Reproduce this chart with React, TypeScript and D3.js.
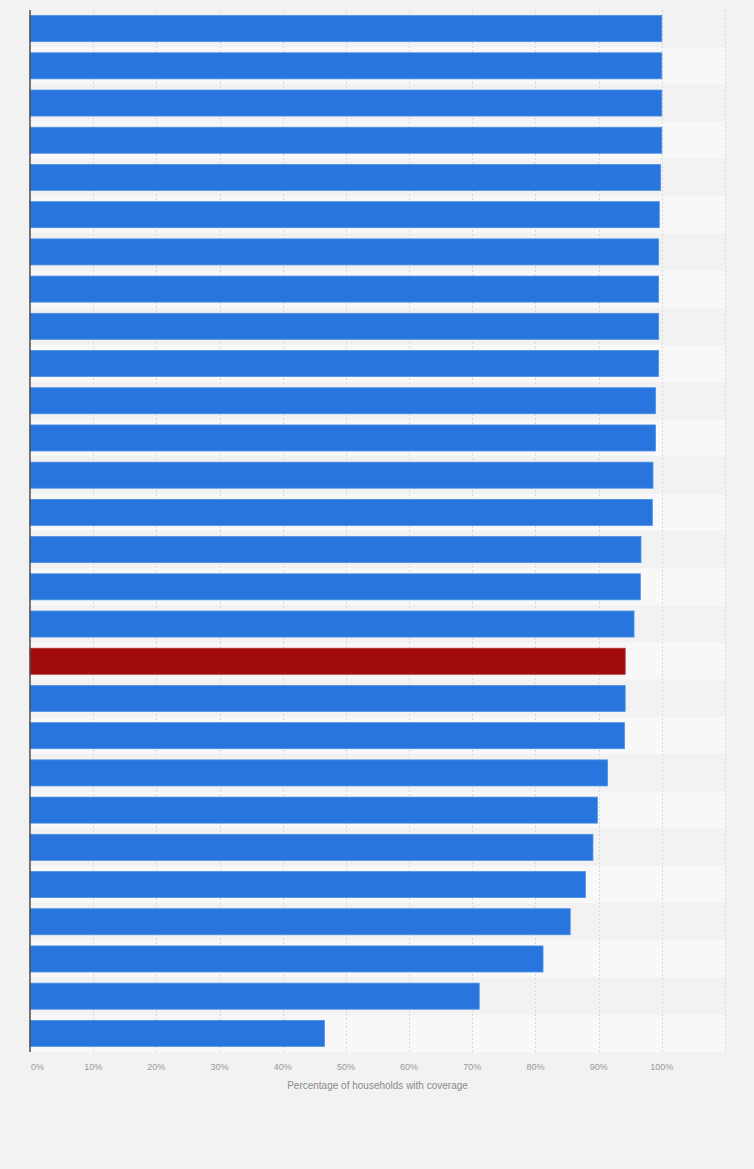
import React, { useRef, useEffect } from "react";
import { select, scaleLinear, scaleBand, range } from "d3";

// coverage share per country, sorted descending (country names not shown in the chart)
const categories = [
  "c01", "c02", "c03", "c04", "c05", "c06", "c07", "c08", "c09", "c10",
  "c11", "c12", "c13", "c14", "c15", "c16", "c17", "c18", "c19", "c20",
  "c21", "c22", "c23", "c24", "c25", "c26", "c27", "c28",
];
const values = [
  100, 100, 100, 100, 99.8, 99.6, 99.5, 99.5, 99.5, 99.5,
  99.0, 99.0, 98.6, 98.5, 96.7, 96.6, 95.6, 94.2, 94.2, 94.1,
  91.4, 89.8, 89.1, 87.9, 85.5, 81.2, 71.1, 46.6,
];
const highlight = "c18";
const ticks = [0, 10, 20, 30, 40, 50, 60, 70, 80, 90, 100];
const axisTitle = "Percentage of households with coverage";

const W = 754;
const H = 1169;
const left = 30;
const right = 725;
const top = 10;
const bottom = 1052;

function App() {
  const svgRef = useRef<SVGSVGElement>(null);

  useEffect(() => {
    const svg = select(svgRef.current);
    svg.selectAll("*").remove();

    const x = scaleLinear().domain([0, 110]).range([left, right]);
    const y = scaleBand<string>()
      .domain(categories)
      .range([top, bottom])
      .paddingInner(0.3)
      .paddingOuter(0.15);
    const rows = scaleBand<string>().domain(categories).range([top, bottom]);

    svg.append("rect").attr("width", W).attr("height", H).attr("fill", "#f2f2f2");

    // alternating row bands
    svg
      .selectAll(".band")
      .data(categories)
      .join("rect")
      .attr("class", "band")
      .attr("x", left)
      .attr("y", (d) => rows(d)!)
      .attr("width", right - left)
      .attr("height", rows.bandwidth())
      .attr("fill", (d, i) => (i % 2 === 0 ? "#f2f2f2" : "#f8f8f8"));

    // grid
    svg
      .selectAll(".grid")
      .data(range(10, 111, 10))
      .join("line")
      .attr("class", "grid")
      .attr("x1", (d) => Math.round(x(d)) + 0.5)
      .attr("x2", (d) => Math.round(x(d)) + 0.5)
      .attr("y1", top)
      .attr("y2", bottom)
      .attr("stroke", "#d9d9d9")
      .attr("stroke-dasharray", "2,2");

    // bars
    svg
      .selectAll(".bar")
      .data(values)
      .join("rect")
      .attr("class", "bar")
      .attr("x", x(0))
      .attr("y", (d, i) => y(categories[i])!)
      .attr("width", (d) => x(d) - x(0))
      .attr("height", y.bandwidth())
      .attr("fill", (d, i) => (categories[i] === highlight ? "#a10a0a" : "#2876dd"))
      .attr("stroke", (d, i) => (categories[i] === highlight ? "#b53030" : "#4d8fe6"))
      .attr("stroke-width", 0.8);

    // y axis line
    svg
      .append("line")
      .attr("x1", left)
      .attr("x2", left)
      .attr("y1", top)
      .attr("y2", bottom)
      .attr("stroke", "#4d4d4d")
      .attr("stroke-width", 1.5);

    // tick labels
    svg
      .selectAll(".tick")
      .data(ticks)
      .join("text")
      .attr("class", "tick")
      .attr("x", (d) => (d === 0 ? x(0) + 1 : x(d)))
      .attr("y", 1070)
      .attr("text-anchor", (d) => (d === 0 ? "start" : "middle"))
      .attr("font-family", "Liberation Sans, Arial, sans-serif")
      .attr("font-size", 9)
      .attr("fill", "#999")
      .text((d) => d + "%");

    svg
      .append("text")
      .attr("x", (left + right) / 2)
      .attr("y", 1089)
      .attr("text-anchor", "middle")
      .attr("font-family", "Liberation Sans, Arial, sans-serif")
      .attr("font-size", 10)
      .attr("fill", "#8a8a8a")
      .text(axisTitle);
  }, []);

  return (
    <div style={{ position: "absolute", left: 0, top: 0 }}>
      <svg ref={svgRef} width={W} height={H} style={{ display: "block" }} />
    </div>
  );
}

export default App;
